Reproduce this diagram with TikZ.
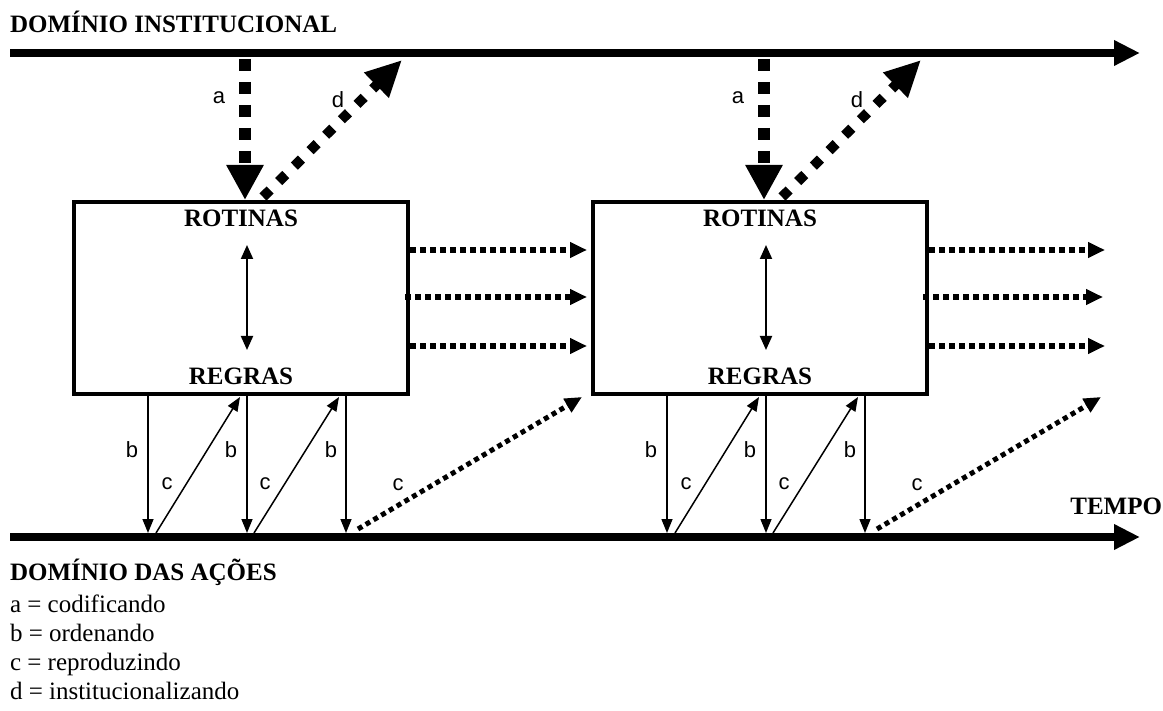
\documentclass[tikz,border=0pt]{standalone}
\usepackage{fontspec}
\setmainfont{Liberation Serif}
\newfontfamily\lblfont{Liberation Sans}
\usetikzlibrary{arrows.meta}
\begin{document}
\begin{tikzpicture}[x=1pt,y=-1pt,
  every node/.style={inner sep=0pt, outer sep=0pt},
  bold/.style={font=\fontsize{25}{29}\selectfont\bfseries},
  legend/.style={font=\fontsize{25}{29}\selectfont, anchor=base west},
  lbl/.style={font=\lblfont\fontsize{22}{26}\selectfont},
  timeline/.style={line width=8pt, -{Triangle[length=26pt,width=24pt]}},
  boxst/.style={draw, line width=4pt, minimum width=334pt, minimum height=192pt, outer sep=2pt},
  acode/.style={line width=12pt, dash pattern=on 12pt off 11pt, -{Triangle[length=35pt,width=35pt]}},
  dinst/.style={line width=10pt, dash pattern=on 10pt off 12pt, -{Triangle[length=36pt,width=33pt]}},
  dbl/.style={line width=2pt, {Triangle[length=14pt,width=12pt]}-{Triangle[length=14pt,width=12pt]}},
  thinarr/.style={line width=1.5pt, -{Triangle[length=14pt,width=11pt]}},
  dotc/.style={line width=5pt, dash pattern=on 5pt off 4pt, -{Triangle[length=17pt,width=15pt]}},
  doth/.style={line width=6pt, dash pattern=on 6pt off 4pt, -{Triangle[length=17pt,width=15pt]}}
]
\useasboundingbox (0,0) rectangle (1163,711);

% time lines
\coordinate (tl0) at (10,53);
\coordinate (tl1) at (1140,53);
\draw[timeline] (tl0) -- (tl1);
\coordinate (bl0) at (10,537);
\coordinate (bl1) at (1140,537);
\draw[timeline] (bl0) -- (bl1);

\node[bold, anchor=base west] (tinst) at (10,33) {DOMÍNIO INSTITUCIONAL};
\node[bold, anchor=base east] (ttempo) at (1162,514) {TEMPO};
\node[bold, anchor=base west] (tacoes) at (10,580) {DOMÍNIO DAS AÇÕES};
\node[legend] (lga) at (10,612) {a = codificando};
\node[legend] (lgb) at (10,641) {b = ordenando};
\node[legend] (lgc) at (10,670) {c = reproduzindo};
\node[legend] (lgd) at (10,699) {d = institucionalizando};

\foreach \i/\dx in {1/0, 2/519} {
  \begin{scope}[xshift=\dx pt]
    \node[boxst] (box\i) at (241,298) {};
    \node[bold, anchor=base] (rot\i) at (241,227) {ROTINAS};
    \node[bold, anchor=base] (reg\i) at (241,385) {REGRAS};
    \coordinate (dt\i) at (247,245);
    \coordinate (db\i) at (247,350);
    \draw[dbl] (dt\i) -- (db\i);
    % a
    \coordinate (as\i) at (245,59);
    \draw[acode] (as\i) -- (as\i |- box\i.north);
    \node[lbl] (la\i) at (219,98) {a};
    % d
    \coordinate (ds\i) at (263,197);
    \coordinate (de\i) at (402,60);
    \draw[dinst] (ds\i) -- (de\i);
    \node[lbl] (ld\i) at (338,100) {d};
    % b
    \foreach \j/\x in {1/148,2/247,3/346} {
      \coordinate (bs\i\j) at (\x,396);
      \coordinate (be\i\j) at (\x,533);
      \draw[thinarr] (bs\i\j) -- (be\i\j);
    }
    \node[lbl] (lb\i1) at (132,450) {b};
    \node[lbl] (lb\i2) at (231,450) {b};
    \node[lbl] (lb\i3) at (331,450) {b};
    % c solid
    \coordinate (cs\i1) at (156,533);
    \coordinate (ce\i1) at (240,397);
    \draw[thinarr] (cs\i1) -- (ce\i1);
    \coordinate (cs\i2) at (254,533);
    \coordinate (ce\i2) at (339,397);
    \draw[thinarr] (cs\i2) -- (ce\i2);
    \node[lbl] (lc\i1) at (167,484) {c};
    \node[lbl] (lc\i2) at (265,484) {c};
    % c dotted
    \coordinate (cds\i) at (358,529);
    \coordinate (cde\i) at (582,397);
    \draw[dotc] (cds\i) -- (cde\i);
    \node[lbl] (lcd\i) at (398,485) {c};
  \end{scope}
}

% horizontal dotted arrows
\coordinate (h1a) at (410,250); \coordinate (h1b) at (587,250);
\coordinate (h2a) at (405,297); \coordinate (h2b) at (587,297);
\coordinate (h3a) at (410,346); \coordinate (h3b) at (587,346);
\draw[doth] (h1a) -- (h1b);
\draw[doth] (h2a) -- (h2b);
\draw[doth] (h3a) -- (h3b);
\coordinate (k1a) at (929,250); \coordinate (k1b) at (1105,250);
\coordinate (k2a) at (923,297); \coordinate (k2b) at (1103,297);
\coordinate (k3a) at (929,346); \coordinate (k3b) at (1105,346);
\draw[doth] (k1a) -- (k1b);
\draw[doth] (k2a) -- (k2b);
\draw[doth] (k3a) -- (k3b);
\end{tikzpicture}
\end{document}
